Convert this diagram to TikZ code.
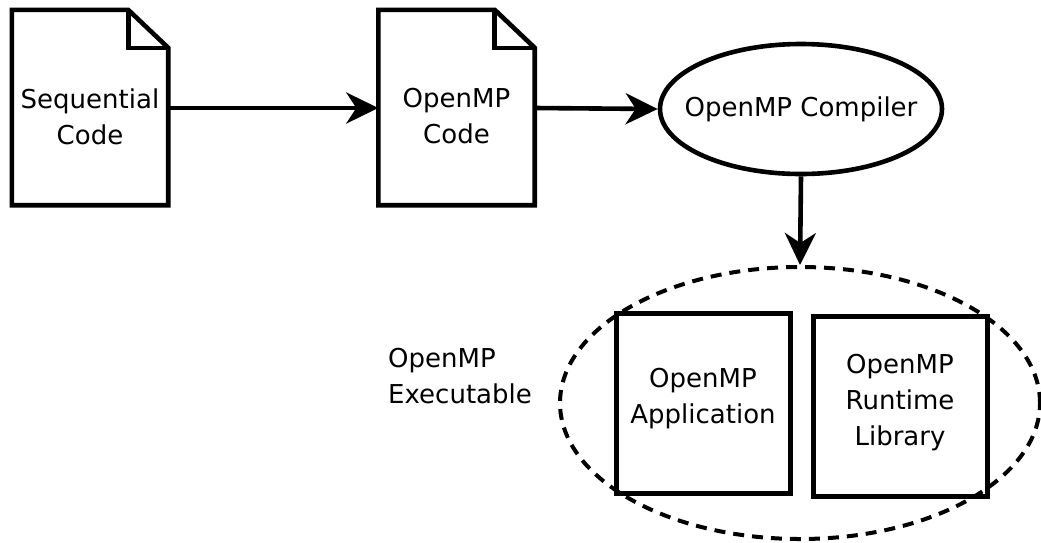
\documentclass[tikz,border=0pt]{standalone}
\usepackage{fontspec}
\setmainfont{DejaVu Sans}
\usetikzlibrary{arrows.meta,shapes.geometric,calc}

% outline of a dog-eared document around a named node
\newcommand\docoutline[1]{%
  \draw[thick line, line join=miter]
    (#1.south west) -- (#1.north west) -- ($(#1.north east)+(-40,0)$)
    -- ($(#1.north east)+(0,38)$) -- (#1.south east) -- cycle;
  \draw[thick line, line join=miter]
    ($(#1.north east)+(-40,0)$) |- ($(#1.north east)+(0,38)$);}

\begin{document}
\begin{tikzpicture}[x=1pt,y=-1pt,
  thick line/.style={line width=4.6pt},
  label text/.style={font=\fontsize{26}{36}\selectfont, align=center, inner sep=0pt},
  docnode/.style={minimum width=156pt, minimum height=195pt, inner sep=0pt},
  toolnode/.style={label text, draw, thick line, ellipse,
    minimum width=282pt, minimum height=130pt, inner sep=0pt},
  partbox/.style={draw, line width=5pt, rectangle,
    minimum width=174pt, minimum height=180pt, inner sep=0pt},
  groupnode/.style={draw, line width=4pt, ellipse, dash pattern=on 11pt off 8pt,
    minimum width=480pt, minimum height=272pt, inner sep=0pt},
  flow/.style={thick line, -{Stealth[length=32pt,width=31pt,inset=10pt]}}]

\useasboundingbox (0,0) rectangle (1041,542);

% source files
\node[docnode] (seq) at (90,107.5) {};
\docoutline{seq}
\node[label text] (seqtext) at ($(seq.center)+(0,9)$) {Sequential\\Code};
\node[docnode] (omp) at (456.5,107.5) {};
\docoutline{omp}
\node[label text] (omptext) at ($(omp.center)+(0,9)$) {OpenMP\\Code};

% compiler
\node[toolnode] (comp) at (801,109) {\makebox[0pt]{OpenMP Compiler}};

% executable with its two parts
\node[groupnode] (exe) at (800,403) {};
\node[partbox] (app) at (703,403) {};
\node[label text] (apptext) at ($(app.center)+(0,-4)$) {OpenMP\\Application};
\node[partbox] (rtl) at (900,406) {};
\node[label text] (rtltext) at ($(rtl.center)+(0,-3)$) {OpenMP\\Runtime\\Library};
\node[label text, anchor=west, align=left] (exelabel) at (388,376) {OpenMP\\Executable};

% connectors
\draw[flow] (seq.east |- 0,108) -- (omp.west |- 0,108);
\draw[flow] (omp.east |- 0,108) -- (comp.west);
\draw[flow] (comp.south) -- (exe.north);

\end{tikzpicture}
\end{document}
